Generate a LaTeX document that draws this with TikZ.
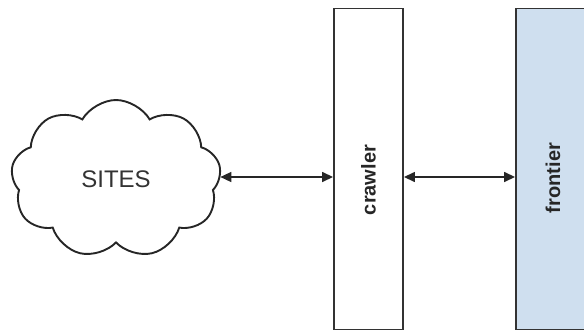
\documentclass[tikz,border=0pt]{standalone}
\usepackage{fontspec}
\setmainfont{Liberation Sans}
\usetikzlibrary{shapes.symbols,arrows.meta}

\definecolor{frontierblue}{RGB}{207,223,239}

\tikzset{
  box/.style={draw=black!80, line width=1.9pt, rectangle, inner sep=0pt},
  link/.style={{Triangle[length=11pt,width=10pt]}-{Triangle[length=11pt,width=10pt]}, line width=1.5pt, black!85}
}

\begin{document}
\begin{tikzpicture}[x=1pt,y=-1pt]
\useasboundingbox (0,0) rectangle (584,330);

% draw the cloud
\node[cloud, cloud puffs=9, cloud puff arc=120, aspect=1.35, draw=black!85, line width=1.9pt,
      minimum width=210pt, minimum height=158pt, font=\fontsize{24}{28}\selectfont, text=black!80]
  (sites) at (116,179) {SITES};

% draw the boxes
\node[box, minimum width=69pt, minimum height=321pt] (crawler) at (368.5,169) {};
\node[box, fill=frontierblue, minimum width=76pt, minimum height=321pt] (frontier) at (554,169) {};

% draw labels
\node[rotate=90, font=\bfseries\fontsize{20}{24}\selectfont, text=black!85] at (crawler.center |- 0,180) {crawler};
\node[rotate=90, font=\bfseries\fontsize{20}{24}\selectfont, text=black!85] at (553,178) {frontier};

% draw arrows
\draw[link] (sites.east |- 0,177) -- (crawler.west |- 0,177);
\draw[link] (crawler.east |- 0,177) -- (frontier.west |- 0,177);

\end{tikzpicture}
\end{document}
